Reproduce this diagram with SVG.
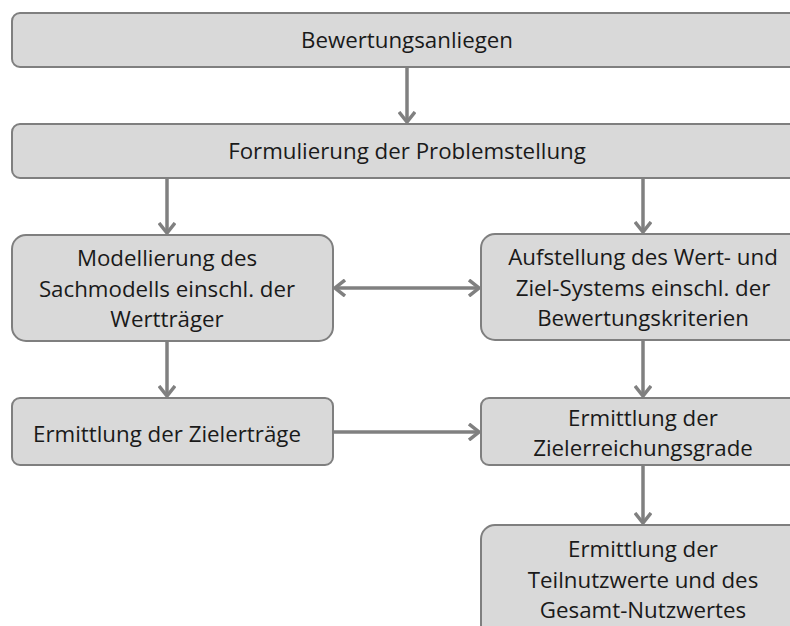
<svg xmlns="http://www.w3.org/2000/svg" width="790" height="626" viewBox="0 0 790 626">
<style>
.box{fill:#d9d9d9;stroke:#7f7f7f;stroke-width:2}
.t{font-family:"Open Sans","Liberation Sans",sans-serif;font-size:22.3px;fill:#1a1a1a;text-anchor:middle}
.c{stroke:#808080;stroke-width:3.5;fill:none}
</style>
<defs>
<marker id="ah" viewBox="0 0 12 18" refX="11" refY="9" markerWidth="12" markerHeight="18" markerUnits="userSpaceOnUse" orient="auto-start-reverse">
<path d="M1,1 L11,9 L1,17" fill="none" stroke="#808080" stroke-width="3.5"/>
</marker>
</defs>
<rect width="790" height="626" fill="#fff"/>
<g id="n1"><rect class="box" x="12" y="13" width="790" height="54" rx="8"/><text class="t" x="407" y="48">Bewertungsanliegen</text></g>
<g id="n2"><rect class="box" x="12" y="124" width="790" height="54" rx="8"/><text class="t" x="407" y="159">Formulierung der Problemstellung</text></g>
<g id="n3"><rect class="box" x="12" y="235" width="321" height="106" rx="14"/><text class="t" x="167" y="266">Modellierung des</text><text class="t" x="167" y="297">Sachmodells einschl. der</text><text class="t" x="167" y="327">Wertträger</text></g>
<g id="n4"><rect class="box" x="481" y="234" width="330" height="106" rx="14"/><text class="t" x="643" y="265">Aufstellung des Wert- und</text><text class="t" x="643" y="296">Ziel-Systems einschl. der</text><text class="t" x="643" y="326">Bewertungskriterien</text></g>
<g id="n5"><rect class="box" x="12" y="398" width="321" height="67" rx="8"/><text class="t" x="167" y="442">Ermittlung der Zielerträge</text></g>
<g id="n6"><rect class="box" x="481" y="398" width="330" height="67" rx="8"/><text class="t" x="643" y="426">Ermittlung der</text><text class="t" x="643" y="456">Zielerreichungsgrade</text></g>
<g id="n7"><rect class="box" x="481" y="525" width="330" height="120" rx="14"/><text class="t" x="643" y="557">Ermittlung der</text><text class="t" x="643" y="588">Teilnutzwerte und des</text><text class="t" x="643" y="618">Gesamt-Nutzwertes</text></g>
<g id="connectors">
<line class="c" x1="407" y1="68" x2="407" y2="122" marker-end="url(#ah)"/>
<line class="c" x1="167" y1="179" x2="167" y2="233" marker-end="url(#ah)"/>
<line class="c" x1="643" y1="179" x2="643" y2="232" marker-end="url(#ah)"/>
<line class="c" x1="335" y1="288" x2="479" y2="288" marker-start="url(#ah)" marker-end="url(#ah)"/>
<line class="c" x1="167" y1="342" x2="167" y2="396" marker-end="url(#ah)"/>
<line class="c" x1="643" y1="341" x2="643" y2="396" marker-end="url(#ah)"/>
<line class="c" x1="334" y1="432" x2="479" y2="432" marker-end="url(#ah)"/>
<line class="c" x1="643" y1="466" x2="643" y2="523" marker-end="url(#ah)"/>
</g>
</svg>
